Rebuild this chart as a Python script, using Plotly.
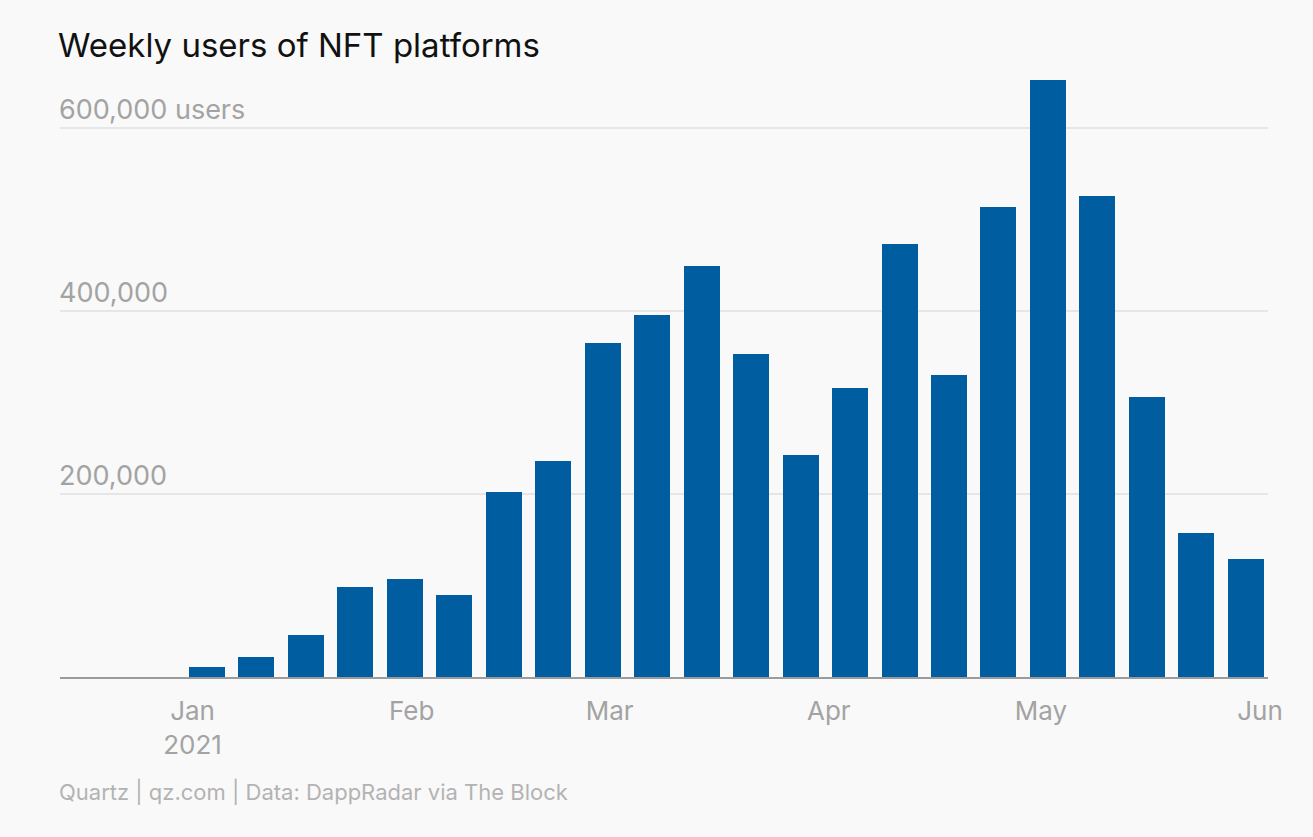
import plotly.graph_objects as go

weeks = ["2021-01-03", "2021-01-10", "2021-01-17", "2021-01-24", "2021-01-31",
         "2021-02-07", "2021-02-14", "2021-02-21", "2021-02-28", "2021-03-07",
         "2021-03-14", "2021-03-21", "2021-03-28", "2021-04-04", "2021-04-11",
         "2021-04-18", "2021-04-25", "2021-05-02", "2021-05-09", "2021-05-16",
         "2021-05-23", "2021-05-30"]
users = [10700, 22400, 46400, 98900, 106600, 89400, 202400, 236600, 365600, 396200,
         449000, 353600, 243200, 316400, 473800, 330600, 514200, 653000, 526200,
         306600, 157900, 129500]

x_tick_vals = ["2021-01-01", "2021-02-01", "2021-03-01", "2021-04-01", "2021-05-01", "2021-06-01"]
x_tick_text = ["Jan<br>2021", "Feb", "Mar", "Apr", "May", "Jun"]
y_tick_vals = [200000, 400000, 600000]
y_tick_text = ["200,000", "400,000", "600,000 users"]

BG = "#f9f9f9"
BAR = "#005d9f"
GREY = "#a3a3a3"
FONT = "Inter"

fig = go.Figure(go.Bar(x=weeks, y=users, marker_color=BAR, marker_line_width=0,
                       width=440000000, hoverinfo="skip"))

fig.update_layout(
    width=1313, height=837,
    paper_bgcolor=BG, plot_bgcolor=BG,
    margin=dict(l=60, r=45, t=55, b=160),
    font=dict(family=FONT, color=GREY),
    showlegend=False,
    title=dict(text="Weekly users of NFT platforms", x=58/1313, xanchor="left",
               y=1-45/837, yanchor="middle",
               font=dict(family=FONT, size=33, color="#111111")),
    bargap=0,
)

fig.update_xaxes(
    type="date",
    range=["2020-12-13 06:00", "2021-06-02 03:00"],
    tickvals=x_tick_vals, ticktext=x_tick_text,
    tickfont=dict(family=FONT, size=26, color=GREY),
    showgrid=False, showline=True, linecolor="#9b9b9b", linewidth=2,
    ticks="", ticklabelstandoff=10,
)

fig.update_yaxes(
    range=[0, 680000],
    tickvals=y_tick_vals, showticklabels=False,
    showgrid=True, gridcolor="#e6e6e6", gridwidth=2,
    zeroline=False, showline=False, ticks="",
)

for v, t in zip(y_tick_vals, y_tick_text):
    fig.add_annotation(
        text=t, xref="paper", yref="y", x=0, y=v, xanchor="left", yanchor="middle",
        xshift=-3, yshift=19, showarrow=False, font=dict(family=FONT, size=27, color=GREY),
    )

fig.add_annotation(
    text="Quartz | qz.com | Data: DappRadar via The Block",
    xref="paper", yref="paper", x=0, y=(677.5-792)/622, xanchor="left", yanchor="middle",
    xshift=-3, showarrow=False, font=dict(family=FONT, size=22, color="#b3b3b3"),
)

fig.write_html("out.html", config={"displayModeBar": False},
               post_script="document.body.style.margin='0';document.body.style.background='%s';" % BG)
